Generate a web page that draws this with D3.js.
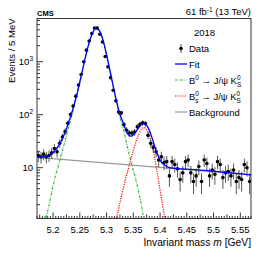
<!DOCTYPE html>
<html>
<head>
<meta charset="utf-8">
<script src="https://cdn.jsdelivr.net/npm/d3@7"></script>
<style>
body { margin: 0; background: #fff; }
text { font-family: "Liberation Sans", Arial, sans-serif; fill: #000; }
</style>
</head>
<body>
<div id="screen"></div>
<script>
var width = 266;
var height = 255;
var xPadding = {left: 37, right: 15};
var yPadding = {top: 18.5, bottom: 36.5};

// histogram: 5 MeV bins starting at 5.17 GeV
var binStart = 5.17;
var binWidth = 0.005;
var counts = [17, 16, 18, 16, 17, 19, 23, 20, 29, 38,
  48, 69, 101, 146, 224, 363, 575, 1000, 1650, 2450,
  3400, 4300, 4300, 3300, 2350, 1250, 800, 500, 290, 183,
  112, 108, 65, 51, 45, 45, 47, 59, 66, 70,
  68, 41, 29, 24, 20, 14, 16, 12.5, 13, 7,
  13, 11.5, 9.5, 6, 8, 13, 14, 8, 5.5, 7,
  10.5, 5.5, 14, 12, 7, 9, 7.5, 13, 11.5, 6.5,
  8, 8.5, 7, 9, 5.5, 6.5, 6, 11.5, 10, 5.5];

// fit curves
var fitMass = [5.17, 5.175, 5.18, 5.185, 5.19, 5.195, 5.20, 5.205, 5.21, 5.215, 5.22, 5.225, 5.23, 5.235, 5.24, 5.245,
  5.25, 5.255, 5.26, 5.265, 5.27, 5.275, 5.28, 5.285, 5.29, 5.295, 5.30, 5.305, 5.31, 5.315, 5.32, 5.325, 5.33,
  5.335, 5.34, 5.345, 5.35, 5.355, 5.36, 5.365, 5.37, 5.375, 5.38, 5.385, 5.39, 5.395, 5.40, 5.405, 5.41, 5.415,
  5.42, 5.45, 5.50, 5.57];
var fitVal = [16.0, 15.9, 15.9, 16.2, 16.6, 17.6, 19.4, 22.1, 25.6, 31.5, 40.3, 54.2, 76, 109, 164, 254,
  414, 693, 1163, 1863, 2763, 3713, 4263, 4063, 3263, 2212, 1362, 792, 452, 263, 158, 102, 75,
  55, 42.4, 39.3, 41.2, 47.9, 56.5, 65.9, 68.8, 63.2, 50.6, 36.5, 25.4, 18.1, 14.0, 12.0, 11.0, 10.3,
  9.9, 9.4, 8.6, 7.3];

var b0Mass = [5.185, 5.19, 5.195, 5.20, 5.205, 5.21, 5.215, 5.22, 5.225, 5.23, 5.235, 5.24, 5.245, 5.25, 5.255,
  5.26, 5.265, 5.27, 5.275, 5.28, 5.285, 5.29, 5.295, 5.30, 5.305, 5.31, 5.315, 5.32, 5.325, 5.33, 5.335,
  5.34, 5.345, 5.35, 5.355, 5.36, 5.365, 5.37];
var b0Val = [0.9, 1.5, 2.6, 4.5, 7.3, 11, 17, 26, 40, 62, 95, 150, 240, 400, 680,
  1150, 1850, 2750, 3700, 4250, 4050, 3250, 2200, 1350, 780, 440, 250, 145, 88, 60, 38,
  22, 14, 9, 5.8, 3.5, 2.0, 1.0];

var bsMass = [5.31, 5.315, 5.32, 5.325, 5.33, 5.335, 5.34, 5.345, 5.35, 5.355, 5.36, 5.365, 5.37, 5.375,
  5.38, 5.385, 5.39, 5.395, 5.40, 5.405, 5.41, 5.415];
var bsVal = [0.5, 0.8, 1.3, 2.2, 3.6, 5.8, 9, 14, 21, 31, 42, 53, 57, 52,
  40, 26, 15, 7.8, 3.8, 1.9, 0.95, 0.45];

var bkgMass = [5.17, 5.57];
var bkgVal = [15.7, 7.3];

var xTicks = [5.2, 5.25, 5.3, 5.35, 5.4, 5.45, 5.5, 5.55];
var xTickLabels = ["5.2", "5.25", "5.3", "5.35", "5.4", "5.45", "5.5", "5.55"];
var yTicks = [10, 100, 1000];
var yTickBase = ["10", "10", "10"];
var yTickExp = ["", "2", "3"];

var scaleX = d3.scaleLinear().domain([5.17, 5.57]).range([xPadding.left, width - xPadding.right]);
var scaleY = d3.scaleLog().domain([1.1, 6530]).range([height - yPadding.bottom, yPadding.top]);

var svg = d3.select("#screen").append("svg")
  .attr("width", width).attr("height", height);

var x0 = scaleX.range()[0], x1 = scaleX.range()[1];
var y0 = scaleY.range()[0], y1 = scaleY.range()[1];

svg.append("clipPath").attr("id", "plotclip")
  .append("rect").attr("x", x0).attr("y", y1).attr("width", x1 - x0).attr("height", y0 - y1);

// x ticks (inside, pointing up)
var xMinor = d3.range(0, 81).map(function(i){ return 5.17 + i * 0.005; });
svg.append("g").selectAll("line").data(xMinor).enter().append("line")
  .attr("x1", function(d){ return scaleX(d); })
  .attr("x2", function(d){ return scaleX(d); })
  .attr("y1", y0)
  .attr("y2", function(d, i){
    var k = Math.round((d - 5.15) / 0.005);
    if (k % 10 == 0) return y0 - 6;
    if (k % 5 == 0) return y0 - 4;
    return y0 - 2.5;
  })
  .attr("stroke", "#000").attr("stroke-width", 0.8);

svg.append("g").selectAll("text").data(xTicks).enter().append("text")
  .attr("x", function(d){ return scaleX(d); })
  .attr("y", y0 + 14)
  .attr("text-anchor", "middle")
  .attr("font-size", "9.5px")
  .text(function(d, i){ return xTickLabels[i]; });

// y ticks (log)
var yMinor = [];
[1, 10, 100, 1000].forEach(function(dec){
  for (var k = 1; k <= 9; k++) {
    var v = dec * k;
    if (v >= 1.1 && v <= 6530) yMinor.push(v);
  }
});
svg.append("g").selectAll("line").data(yMinor).enter().append("line")
  .attr("x1", x0)
  .attr("x2", function(d){ return yTicks.indexOf(d) >= 0 ? x0 + 6 : x0 + 3; })
  .attr("y1", function(d){ return scaleY(d); })
  .attr("y2", function(d){ return scaleY(d); })
  .attr("stroke", "#000").attr("stroke-width", 0.8);

var yLab = svg.append("g").selectAll("text").data(yTicks).enter().append("text")
  .attr("x", x0 - 4)
  .attr("y", function(d){ return scaleY(d) + 3.5; })
  .attr("text-anchor", "end")
  .attr("font-size", "9.5px");
yLab.append("tspan").text(function(d, i){ return yTickBase[i]; });
yLab.append("tspan").attr("dy", -4).attr("font-size", "6.5px").text(function(d, i){ return yTickExp[i]; });

// curves
var plot = svg.append("g").attr("clip-path", "url(#plotclip)");
var makeLine = function(xs){
  return d3.line()
    .x(function(d, i){ return scaleX(xs[i]); })
    .y(function(d){ return scaleY(Math.max(d, 0.5)); })
    .curve(d3.curveMonotoneX);
};

plot.append("path").attr("d", makeLine(bkgMass)(bkgVal))
  .attr("fill", "none").attr("stroke", "#999").attr("stroke-width", 1.2);
plot.append("path").attr("d", makeLine(b0Mass)(b0Val))
  .attr("fill", "none").attr("stroke", "#33bb33").attr("stroke-width", 1.2)
  .attr("stroke-dasharray", "2.5,1.2,0.8,1.2");
plot.append("path").attr("d", makeLine(bsMass)(bsVal))
  .attr("fill", "none").attr("stroke", "#ff0000").attr("stroke-width", 1.2)
  .attr("stroke-dasharray", "1.2,1.2");

// data points with error bars
var centers = counts.map(function(c, i){ return binStart + binWidth * (i + 0.5); });
var pts = plot.append("g").selectAll("g").data(counts).enter().append("g");
pts.append("line")
  .attr("x1", function(d, i){ return scaleX(centers[i]); })
  .attr("x2", function(d, i){ return scaleX(centers[i]); })
  .attr("y1", function(d){ return scaleY(d + Math.sqrt(d)); })
  .attr("y2", function(d){ return scaleY(Math.max(d - Math.sqrt(d), 0.5)); })
  .attr("stroke", "#444").attr("stroke-width", 0.9);
pts.append("circle")
  .attr("cx", function(d, i){ return scaleX(centers[i]); })
  .attr("cy", function(d){ return scaleY(d); })
  .attr("r", 1.8)
  .attr("fill", "#000");

plot.append("path").attr("d", makeLine(fitMass)(fitVal))
  .attr("fill", "none").attr("stroke", "#0000ff").attr("stroke-width", 1.3);

// frame
svg.append("rect").attr("x", x0).attr("y", y1).attr("width", x1 - x0).attr("height", y0 - y1)
  .attr("fill", "none").attr("stroke", "#222").attr("stroke-width", 0.9);

// titles
svg.append("text").attr("x", x0).attr("y", 16).attr("font-size", "7.5px").attr("font-weight", "bold").text("CMS");
var lumi = svg.append("text").attr("x", x1).attr("y", 15).attr("text-anchor", "end").attr("font-size", "9.5px");
lumi.append("tspan").text("61 fb");
lumi.append("tspan").attr("dy", -3.5).attr("font-size", "6.5px").text("-1");
lumi.append("tspan").attr("dy", 3.5).text(" (13 TeV)");

svg.append("text")
  .attr("transform", "translate(15," + y1 + ") rotate(-90)")
  .attr("text-anchor", "end")
  .attr("font-size", "9.5px")
  .text("Events / 5 MeV");

var xt = svg.append("text").attr("x", x1).attr("y", y0 + 27).attr("text-anchor", "end").attr("font-size", "10.3px");
xt.append("tspan").text("Invariant mass  ");
xt.append("tspan").attr("font-style", "italic").text("m");
xt.append("tspan").text(" [GeV]");

// legend
var lg = svg.append("g");
var lx = 175, ltx = 189;
lg.append("text").attr("x", 194).attr("y", 36).attr("font-size", "9.5px").text("2018");
lg.append("line").attr("x1", 181).attr("x2", 181).attr("y1", 44).attr("y2", 53).attr("stroke", "#444").attr("stroke-width", 0.9);
lg.append("circle").attr("cx", 181).attr("cy", 48.5).attr("r", 1.8).attr("fill", "#000");
lg.append("text").attr("x", ltx).attr("y", 52).attr("font-size", "9.5px").text("Data");

lg.append("line").attr("x1", lx).attr("x2", lx + 12).attr("y1", 64).attr("y2", 64)
  .attr("stroke", "#0000ff").attr("stroke-width", 1.3);
lg.append("text").attr("x", ltx).attr("y", 67.5).attr("font-size", "9.5px").text("Fit");

lg.append("line").attr("x1", lx).attr("x2", lx + 12).attr("y1", 80).attr("y2", 80)
  .attr("stroke", "#33bb33").attr("stroke-width", 1.2).attr("stroke-dasharray", "2.5,1.2,0.8,1.2");
var t1 = lg.append("text").attr("x", ltx).attr("y", 83.5).attr("font-size", "9.5px");
t1.append("tspan").text("B");
t1.append("tspan").attr("dy", -3.5).attr("font-size", "6.5px").text("0");
t1.append("tspan").attr("dy", 3.5).text(" \u2192 J/\u03c8 K");
t1.append("tspan").attr("dy", -3.5).attr("font-size", "6.5px").text("0");
t1.append("tspan").attr("dy", 6.5).attr("dx", -3.6).attr("font-size", "6.5px").text("S");

lg.append("line").attr("x1", lx).attr("x2", lx + 12).attr("y1", 96).attr("y2", 96)
  .attr("stroke", "#ff0000").attr("stroke-width", 1.2).attr("stroke-dasharray", "1.2,1.2");
var t2 = lg.append("text").attr("x", ltx).attr("y", 99.5).attr("font-size", "9.5px");
t2.append("tspan").text("B");
t2.append("tspan").attr("dy", -3.5).attr("font-size", "6.5px").text("0");
t2.append("tspan").attr("dy", 6.5).attr("dx", -3.6).attr("font-size", "6.5px").text("s");
t2.append("tspan").attr("dy", -3).text(" \u2192 J/\u03c8 K");
t2.append("tspan").attr("dy", -3.5).attr("font-size", "6.5px").text("0");
t2.append("tspan").attr("dy", 6.5).attr("dx", -3.6).attr("font-size", "6.5px").text("S");

lg.append("line").attr("x1", lx).attr("x2", lx + 12).attr("y1", 112).attr("y2", 112)
  .attr("stroke", "#999").attr("stroke-width", 1.2);
lg.append("text").attr("x", ltx).attr("y", 115.5).attr("font-size", "9.5px").text("Background");
</script>
</body>
</html>
